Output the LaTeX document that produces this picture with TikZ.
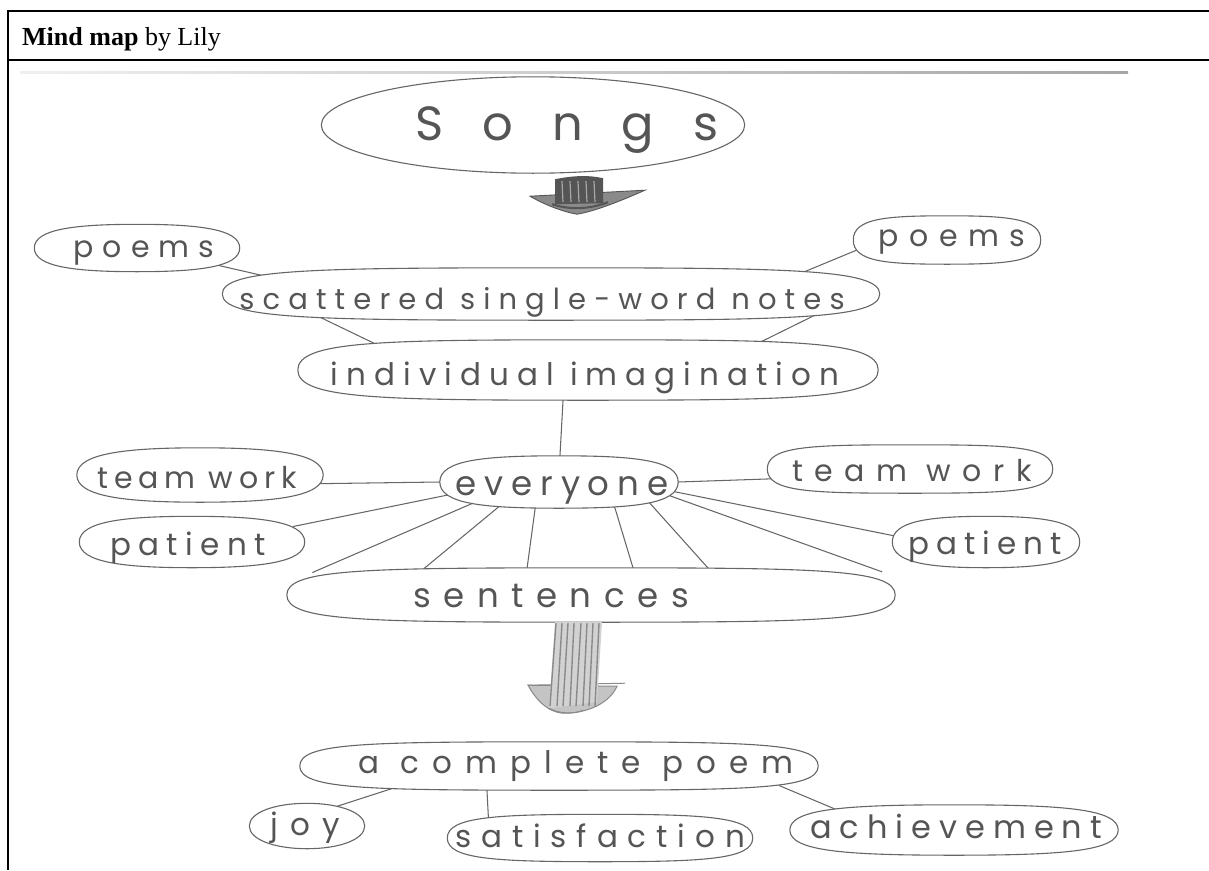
\documentclass[tikz,border=0pt]{standalone}
\usepackage{fontspec}
\setmainfont{Liberation Serif}
\newfontfamily\handfont{Poppins}
\usetikzlibrary{calc}

\definecolor{pencil}{HTML}{555555}
\definecolor{pencilline}{HTML}{666666}
\definecolor{leaddark}{HTML}{555555}
\definecolor{leadmid}{HTML}{8A8A8A}
\definecolor{leadlight}{HTML}{C4C4C4}

% handwritten-looking label: size, letter spacing, text
\newcommand\hw[3]{{\handfont\addfontfeatures{LetterSpace=#2}\fontsize{#1}{#1}\selectfont #3}}

% hand-drawn oval around a node: node name, end roundness, top flatness
\newcommand\blob[3]{%
  \path[blobline] (#1.west)
    .. controls ($(#1.west)!#2!(#1.north west)$) and ($(#1.north)!#3!(#1.north west)$) .. (#1.north)
    .. controls ($(#1.north)!#3!(#1.north east)$) and ($(#1.east)!#2!(#1.north east)$) .. (#1.east)
    .. controls ($(#1.east)!#2!(#1.south east)$) and ($(#1.south)!#3!(#1.south east)$) .. (#1.south)
    .. controls ($(#1.south)!#3!(#1.south west)$) and ($(#1.west)!#2!(#1.south west)$) .. (#1.west);}

\begin{document}
\begin{tikzpicture}[x=1pt,y=-1pt,
  frame/.style={line width=2.4pt, black},
  area/.style 2 args={rectangle, inner sep=0pt, minimum width=#1, minimum height=#2},
  blobline/.style={draw=pencilline, fill=white, line width=1.1pt},
  hwtext/.style={inner sep=0pt, text=pencil, anchor=base},
  link/.style={draw=pencilline, line width=1.05pt, shorten <=-12pt, shorten >=-12pt},
]
\useasboundingbox (0,0) rectangle (1209,870);

% table frame and heading
\coordinate (tl) at (8,11);
\coordinate (tr) at (1209,11);
\coordinate (hl) at (8,60);
\coordinate (hr) at (1209,60);
\coordinate (bl) at (8,870);
\draw[frame] (tr) -- (tl) -- (bl);
\draw[frame] (hl) -- (hr);
\node[anchor=base west, inner sep=0pt, font=\fontsize{26}{26}\selectfont] (title) at (22,45)
  {\textbf{Mind map} by Lily};

% upper edge of the scanned sheet
\shade[left color=gray!12, right color=gray!70] (20,71) rectangle (1128,73.5);

% ---- node areas ----
\node[area={423}{96}] (songs) at (533,125) {};
\node[area={205}{47}] (poemsL) at (137,248) {};
\node[area={187}{48}] (poemsR) at (947,240) {};
\node[area={657}{52}] (scat) at (551,294) {};
\node[area={580}{60}] (indiv) at (588,370) {};
\node[area={238}{52}] (every) at (559,482) {};
\node[area={246}{54}] (teamL) at (200,475) {};
\node[area={225}{51}] (patL) at (192,542) {};
\node[area={285}{48}] (teamR) at (910,469) {};
\node[area={187}{51}] (patR) at (986,542) {};
\node[area={608}{54}] (sent) at (591,595) {};
\node[area={518}{48}] (comp) at (559,766) {};
\node[area={115}{45}] (joy) at (307,826) {};
\node[area={305}{47}] (satis) at (600,838) {};
\node[area={328}{50}] (achiev) at (954,830) {};

% ---- connectors (their ends tuck under the ovals) ----
\draw[link] ($(poemsL.center)+(58,12)$) -- ($(scat.north west)+(50,10)$);
\draw[link] (poemsR.187) -- ($(scat.north west)!0.90!(scat.north east)$);
\draw[link] ($(scat.south west)!0.158!(scat.south east)$) -- ($(indiv.north west)!0.119!(indiv.north east)$);
\draw[link] ($(scat.south west)!0.886!(scat.south east)$) -- ($(indiv.north west)!0.805!(indiv.north east)$);
\draw[link] ($(indiv.south west)!0.457!(indiv.south east)$) -- ($(every.north west)!0.504!(every.north east)$);
\draw[link] (teamL.-4) -- (every.west);
\draw[link] (patL.9) -- (every.187);
\draw[link] (every.east) -- (teamR.184);
\draw[link] (every.-5) -- (patR.176);
% fan of lines down to the sentences
\draw[link] ($(every.south west)!0.09!(every.south east)$) -- ($(sent.north west)!0.06!(sent.north east)$);
\draw[link] ($(every.south west)!0.24!(every.south east)$) -- ($(sent.north west)!0.227!(sent.north east)$);
\draw[link] ($(every.south west)!0.40!(every.south east)$) -- ($(sent.north west)!0.395!(sent.north east)$);
\draw[link] ($(every.south west)!0.735!(every.south east)$) -- ($(sent.north west)!0.569!(sent.north east)$);
\draw[link] ($(every.south west)!0.90!(every.south east)$) -- ($(sent.north west)!0.692!(sent.north east)$);
\draw[link] (every.-8) -- ($(sent.north west)!0.96!(sent.north east)$);
% results
\draw[link] ($(comp.south west)!0.168!(comp.south east)$) -- (joy.30);
\draw[link] ($(comp.south west)!0.361!(comp.south east)$) -- ($(satis.north west)!0.134!(satis.north east)$);
\draw[link] ($(comp.south west)!0.946!(comp.south east)$) -- ($(achiev.north west)!0.107!(achiev.north east)$);

% ---- hand-drawn ovals ----
\blob{songs}{0.552}{0.552}
\blob{poemsL}{0.8}{0.6}
\blob{poemsR}{0.9}{0.65}
\blob{scat}{0.95}{0.72}
\blob{indiv}{0.95}{0.72}
\blob{every}{0.85}{0.62}
\blob{teamL}{0.8}{0.6}
\blob{patL}{0.8}{0.6}
\blob{teamR}{0.95}{0.7}
\blob{patR}{0.8}{0.62}
\blob{sent}{0.95}{0.75}
\blob{comp}{0.95}{0.75}
\blob{joy}{0.6}{0.56}
\blob{satis}{0.9}{0.68}
\blob{achiev}{0.85}{0.65}

% ---- words ----
\node[hwtext] (songs-t) at (567,140) {\hw{48}{81}{Songs}};
\node[hwtext] (poemsL-t) at (144,257) {\hw{30}{30}{poems}};
\node[hwtext] (poemsR-t) at (952,246) {\hw{30}{35}{poems}};
\node[hwtext] (scat-t) at (542,309) {\hw{29}{28}{scattered single-word notes}};
\node[hwtext] (indiv-t) at (585,385) {\hw{31}{26}{individual imagination}};
\node[hwtext] (every-t) at (562,495) {\hw{34}{23}{everyone}};
\node[hwtext] (teamL-t) at (197,488) {\hw{30}{19}{team work}};
\node[hwtext] (patL-t) at (188,555) {\hw{31}{24}{patient}};
\node[hwtext] (teamR-t) at (912,481) {\hw{30}{38}{team work}};
\node[hwtext] (patR-t) at (985,554) {\hw{31}{23}{patient}};
\node[hwtext] (sent-t) at (551,607) {\hw{34}{37}{sentences}};
\node[hwtext] (comp-t) at (576,773) {\hw{31}{42}{a complete poem}};
\node[hwtext] (joy-t) at (305,835) {\hw{31}{39}{joy}};
\node[hwtext] (satis-t) at (600,847) {\hw{31}{32}{satisfaction}};
\node[hwtext] (achiev-t) at (956,838) {\hw{32}{25}{achievement}};

% ---- shaded pencil arrow: Songs -> notes ----
\coordinate (ar1) at ($(songs.south)+(47,0)$);
\begin{scope}[shift={(ar1)}]
  \fill[leadmid, draw=leaddark, line width=0.9pt]
    (-50,23) -- (65,17) .. controls (40,28) and (15,38) .. (-3,41)
    .. controls (-20,38) and (-38,30) .. cycle;
  \fill[leaddark] (-25,6) .. controls (-5,2) and (10,2) .. (23,5) -- (23,30) -- (-25,31) -- cycle;
  \foreach \xx in {-18,-10,-2,6,14} {
    \draw[gray!70, line width=1.2pt] (\xx,8) -- (\xx+1,29);
  }
  \draw[leaddark, line width=2pt] (-28,31) .. controls (-10,37) and (10,36) .. (28,29);
\end{scope}

% ---- shaded pencil arrow: sentences -> poem ----
\coordinate (ar2) at ($(sent.south)+(-16,0)$);
\begin{scope}[shift={(ar2)}]
  \fill[leadlight, draw=leadmid, line width=1pt]
    (-47,63) .. controls (-35,85) and (-20,92) .. (-8,91)
    .. controls (15,90) and (35,80) .. (42,64) -- cycle;
  \draw[leadmid, line width=1pt] (-47,63) -- (50,61);
  \fill[gray!35] (-20,0) -- (27,0) -- (22,80) -- (-26,86) -- cycle;
  \foreach \xt/\xb in {-19/-25, -13/-18, -7/-12, -1/-5, 6/1, 12/8, 18/14, 24/20} {
    \draw[leadmid, line width=1.4pt] (\xt,1) -- (\xb,84);
  }
  \draw[leadmid, line width=1pt] (-26,86) .. controls (-15,92) and (0,92) .. (8,88);
\end{scope}

\end{tikzpicture}
\end{document}
